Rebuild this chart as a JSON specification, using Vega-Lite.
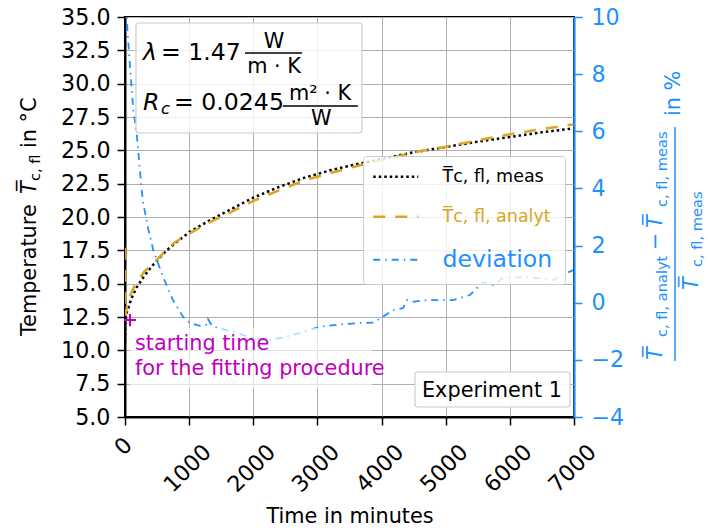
{
  "$schema": "https://vega.github.io/schema/vega-lite/v6.json",
  "width": 449,
  "height": 400,
  "autosize": {"type": "none"},
  "padding": {"left": 125, "top": 17, "right": 134, "bottom": 114},
  "background": "white",
  "config": {
    "view": {"stroke": "black", "strokeWidth": 2},
    "font": "DejaVu Sans",
    "text": {"font": "DejaVu Sans"},
    "axis": {
      "labelFont": "DejaVu Sans", "labelFontSize": 22.2, "labelColor": "black",
      "tickColor": "black", "tickSize": 8, "tickWidth": 1.5,
      "domainColor": "black", "domainWidth": 2,
      "gridColor": "#b0b0b0", "gridWidth": 1,
      "titleFont": "DejaVu Sans", "titleColor": "black", "titleFontWeight": "normal"
    },
    "legend": {
      "orient": "none", "legendX": 238, "legendY": 139, "title": null,
      "symbolType": "stroke", "symbolSize": 2025, "symbolStrokeWidth": 2.5, "symbolOffset": 12,
      "labelFont": "DejaVu Sans", "labelFontSize": 17.5, "labelOffset": 38, "labelLimit": 300,
      "padding": 12, "rowPadding": 21,
      "fillColor": "rgba(255,255,255,0.8)", "strokeColor": "#cccccc", "cornerRadius": 3
    }
  },
  "datasets": {
    "temps": [
      {"t": 0, "T": 10.7, "series": "T̅c, fl, meas"},
      {"t": 8, "T": 12.2, "series": "T̅c, fl, meas"},
      {"t": 25, "T": 12.8, "series": "T̅c, fl, meas"},
      {"t": 60, "T": 13.3, "series": "T̅c, fl, meas"},
      {"t": 100, "T": 13.9, "series": "T̅c, fl, meas"},
      {"t": 180, "T": 14.7, "series": "T̅c, fl, meas"},
      {"t": 290, "T": 15.5, "series": "T̅c, fl, meas"},
      {"t": 400, "T": 16.2, "series": "T̅c, fl, meas"},
      {"t": 500, "T": 16.75, "series": "T̅c, fl, meas"},
      {"t": 650, "T": 17.5, "series": "T̅c, fl, meas"},
      {"t": 800, "T": 18.1, "series": "T̅c, fl, meas"},
      {"t": 1000, "T": 18.85, "series": "T̅c, fl, meas"},
      {"t": 1300, "T": 19.7, "series": "T̅c, fl, meas"},
      {"t": 1600, "T": 20.45, "series": "T̅c, fl, meas"},
      {"t": 2000, "T": 21.45, "series": "T̅c, fl, meas"},
      {"t": 2400, "T": 22.25, "series": "T̅c, fl, meas"},
      {"t": 2800, "T": 22.95, "series": "T̅c, fl, meas"},
      {"t": 3200, "T": 23.5, "series": "T̅c, fl, meas"},
      {"t": 3600, "T": 23.95, "series": "T̅c, fl, meas"},
      {"t": 4000, "T": 24.35, "series": "T̅c, fl, meas"},
      {"t": 4500, "T": 24.85, "series": "T̅c, fl, meas"},
      {"t": 5000, "T": 25.25, "series": "T̅c, fl, meas"},
      {"t": 5500, "T": 25.65, "series": "T̅c, fl, meas"},
      {"t": 6000, "T": 26.0, "series": "T̅c, fl, meas"},
      {"t": 6500, "T": 26.35, "series": "T̅c, fl, meas"},
      {"t": 7000, "T": 26.65, "series": "T̅c, fl, meas"},
      {"t": 0, "T": 17.7, "series": "T̅c, fl, analyt"},
      {"t": 5, "T": 12.6, "series": "T̅c, fl, analyt"},
      {"t": 50, "T": 13.75, "series": "T̅c, fl, analyt"},
      {"t": 150, "T": 14.85, "series": "T̅c, fl, analyt"},
      {"t": 300, "T": 15.9, "series": "T̅c, fl, analyt"},
      {"t": 450, "T": 16.55, "series": "T̅c, fl, analyt"},
      {"t": 600, "T": 17.3, "series": "T̅c, fl, analyt"},
      {"t": 750, "T": 18.0, "series": "T̅c, fl, analyt"},
      {"t": 900, "T": 18.5, "series": "T̅c, fl, analyt"},
      {"t": 1000, "T": 18.75, "series": "T̅c, fl, analyt"},
      {"t": 1300, "T": 19.55, "series": "T̅c, fl, analyt"},
      {"t": 1600, "T": 20.25, "series": "T̅c, fl, analyt"},
      {"t": 2000, "T": 21.2, "series": "T̅c, fl, analyt"},
      {"t": 2400, "T": 22.0, "series": "T̅c, fl, analyt"},
      {"t": 2800, "T": 22.75, "series": "T̅c, fl, analyt"},
      {"t": 3200, "T": 23.3, "series": "T̅c, fl, analyt"},
      {"t": 3600, "T": 23.8, "series": "T̅c, fl, analyt"},
      {"t": 4000, "T": 24.25, "series": "T̅c, fl, analyt"},
      {"t": 4500, "T": 24.85, "series": "T̅c, fl, analyt"},
      {"t": 5000, "T": 25.27, "series": "T̅c, fl, analyt"},
      {"t": 5500, "T": 25.75, "series": "T̅c, fl, analyt"},
      {"t": 6000, "T": 26.2, "series": "T̅c, fl, analyt"},
      {"t": 6500, "T": 26.6, "series": "T̅c, fl, analyt"},
      {"t": 7000, "T": 26.95, "series": "T̅c, fl, analyt"}
    ],
    "dev": [
      {"t": 20, "dev": 10.4, "series": "deviation"},
      {"t": 26, "dev": 9.95, "series": "deviation"},
      {"t": 78, "dev": 8.26, "series": "deviation"},
      {"t": 130, "dev": 6.74, "series": "deviation"},
      {"t": 182, "dev": 5.93, "series": "deviation"},
      {"t": 260, "dev": 3.94, "series": "deviation"},
      {"t": 285, "dev": 3.48, "series": "deviation"},
      {"t": 360, "dev": 2.6, "series": "deviation"},
      {"t": 441, "dev": 1.84, "series": "deviation"},
      {"t": 592, "dev": 0.91, "series": "deviation"},
      {"t": 748, "dev": 0.09, "series": "deviation"},
      {"t": 904, "dev": -0.49, "series": "deviation"},
      {"t": 1013, "dev": -0.71, "series": "deviation"},
      {"t": 1169, "dev": -0.81, "series": "deviation"},
      {"t": 1263, "dev": -0.78, "series": "deviation"},
      {"t": 1294, "dev": -0.57, "series": "deviation"},
      {"t": 1340, "dev": -0.75, "series": "deviation"},
      {"t": 1372, "dev": -0.84, "series": "deviation"},
      {"t": 1684, "dev": -1.02, "series": "deviation"},
      {"t": 1996, "dev": -1.24, "series": "deviation"},
      {"t": 2214, "dev": -1.31, "series": "deviation"},
      {"t": 2450, "dev": -1.22, "series": "deviation"},
      {"t": 2728, "dev": -1.06, "series": "deviation"},
      {"t": 3040, "dev": -0.84, "series": "deviation"},
      {"t": 3350, "dev": -0.76, "series": "deviation"},
      {"t": 3664, "dev": -0.71, "series": "deviation"},
      {"t": 3866, "dev": -0.7, "series": "deviation"},
      {"t": 4022, "dev": -0.49, "series": "deviation"},
      {"t": 4178, "dev": -0.26, "series": "deviation"},
      {"t": 4334, "dev": -0.19, "series": "deviation"},
      {"t": 4397, "dev": 0.09, "series": "deviation"},
      {"t": 4475, "dev": 0.03, "series": "deviation"},
      {"t": 4708, "dev": 0.09, "series": "deviation"},
      {"t": 5114, "dev": 0.09, "series": "deviation"},
      {"t": 5379, "dev": 0.27, "series": "deviation"},
      {"t": 5581, "dev": 0.73, "series": "deviation"},
      {"t": 5737, "dev": 0.62, "series": "deviation"},
      {"t": 5893, "dev": 0.86, "series": "deviation"},
      {"t": 6267, "dev": 0.9, "series": "deviation"},
      {"t": 6672, "dev": 0.79, "series": "deviation"},
      {"t": 6828, "dev": 0.97, "series": "deviation"},
      {"t": 6984, "dev": 1.14, "series": "deviation"}
    ],
    "start": [
      {"t": 78, "T": 12.27}
    ]
  },
  "layer": [
    {
      "data": {"name": "temps"},
      "mark": {"type": "line", "strokeWidth": 2.5, "clip": true},
      "encoding": {
        "x": {
          "field": "t", "type": "quantitative",
          "scale": {"domain": [0, 7000], "nice": false, "zero": false},
          "axis": {
            "title": "Time in minutes", "titleFontSize": 20.8, "titleY": 105, "titleBaseline": "alphabetic",
            "values": [0, 1000, 2000, 3000, 4000, 5000, 6000, 7000], "format": "d",
            "labelAngle": -45, "labelAlign": "center", "labelBaseline": "middle",
            "labelPadding": {"condition": {"test": "datum.value == 0", "value": 21}, "value": 43},
            "labelOffset": -2, "grid": true, "labelOverlap": false
          }
        },
        "y": {
          "field": "T", "type": "quantitative",
          "scale": {"domain": [5, 35], "nice": false, "zero": false},
          "axis": {
            "title": null, "orient": "left", "format": ".1f", "grid": true, "labelPadding": 7,
            "values": [5, 7.5, 10, 12.5, 15, 17.5, 20, 22.5, 25, 27.5, 30, 32.5, 35]
          }
        },
        "color": {
          "field": "series", "type": "nominal",
          "scale": {"domain": ["T̅c, fl, meas", "T̅c, fl, analyt", "deviation"], "range": ["black", "#daa520", "#1e90ff"]},
          "legend": {
            "encode": {
              "labels": {"update": {
                "fill": {"signal": "datum.value === 'deviation' ? '#1e90ff' : (indexof(datum.value, 'analyt') >= 0 ? '#daa520' : 'black')"},
                "fontSize": {"signal": "datum.value === 'deviation' ? 23.6 : 17.5"}
              }},
              "symbols": {"update": {
                "strokeWidth": {"signal": "datum.value === 'deviation' ? 1.8 : 2.5"}
              }}
            }
          }
        },
        "strokeDash": {
          "field": "series", "type": "nominal",
          "scale": {"domain": ["T̅c, fl, meas", "T̅c, fl, analyt", "deviation"], "range": [[2.5, 3], [12, 10], [7, 5, 1.5, 5]]},
          "legend": {
            "encode": {
              "labels": {"update": {
                "fill": {"signal": "datum.value === 'deviation' ? '#1e90ff' : (indexof(datum.value, 'analyt') >= 0 ? '#daa520' : 'black')"},
                "fontSize": {"signal": "datum.value === 'deviation' ? 23.6 : 17.5"}
              }},
              "symbols": {"update": {
                "strokeWidth": {"signal": "datum.value === 'deviation' ? 1.8 : 2.5"}
              }}
            }
          }
        }
      }
    },
    {
      "data": {"name": "dev"},
      "mark": {"type": "line", "strokeWidth": 1.8, "clip": true},
      "encoding": {
        "x": {"field": "t", "type": "quantitative", "scale": {"domain": [0, 7000], "nice": false, "zero": false}},
        "y": {
          "field": "dev", "type": "quantitative",
          "scale": {"domain": [-4, 10], "nice": false, "zero": false},
          "axis": {
            "title": null, "orient": "right", "format": "d", "grid": false,
            "values": [-4, -2, 0, 2, 4, 6, 8, 10],
            "labelColor": "#1e90ff", "tickColor": "#1e90ff", "domainColor": "#1e90ff", "domainWidth": 2.2,
            "labelPadding": 9, "zindex": 1
          }
        },
        "color": {
          "field": "series", "type": "nominal",
          "scale": {"domain": ["T̅c, fl, meas", "T̅c, fl, analyt", "deviation"], "range": ["black", "#daa520", "#1e90ff"]},
          "legend": {
            "encode": {
              "labels": {"update": {
                "fill": {"signal": "datum.value === 'deviation' ? '#1e90ff' : (indexof(datum.value, 'analyt') >= 0 ? '#daa520' : 'black')"},
                "fontSize": {"signal": "datum.value === 'deviation' ? 23.6 : 17.5"}
              }},
              "symbols": {"update": {
                "strokeWidth": {"signal": "datum.value === 'deviation' ? 1.8 : 2.5"}
              }}
            }
          }
        },
        "strokeDash": {
          "field": "series", "type": "nominal",
          "scale": {"domain": ["T̅c, fl, meas", "T̅c, fl, analyt", "deviation"], "range": [[2.5, 3], [12, 10], [7, 5, 1.5, 5]]},
          "legend": {
            "encode": {
              "labels": {"update": {
                "fill": {"signal": "datum.value === 'deviation' ? '#1e90ff' : (indexof(datum.value, 'analyt') >= 0 ? '#daa520' : 'black')"},
                "fontSize": {"signal": "datum.value === 'deviation' ? 23.6 : 17.5"}
              }},
              "symbols": {"update": {
                "strokeWidth": {"signal": "datum.value === 'deviation' ? 1.8 : 2.5"}
              }}
            }
          }
        }
      }
    },
    {
      "data": {"values": [{}]},
      "layer": [
        {
          "mark": {"type": "rect", "fill": "white", "fillOpacity": 0.8, "stroke": "#cccccc", "strokeWidth": 1.2, "cornerRadius": 3},
          "encoding": {
            "x": {"datum": 171, "type": "quantitative", "scale": {"domain": [0, 7000], "nice": false, "zero": false}},
            "x2": {"datum": 3695},
            "y": {"datum": 34.55, "type": "quantitative", "scale": {"domain": [5, 35], "nice": false, "zero": false}, "axis": null},
            "y2": {"datum": 26.3}
          }
        },
        {
          "mark": {"type": "rect", "fill": "white", "fillOpacity": 0.65},
          "encoding": {
            "x": {"datum": 78, "type": "quantitative", "scale": {"domain": [0, 7000], "nice": false, "zero": false}},
            "x2": {"datum": 3851},
            "y": {"datum": 11.675, "type": "quantitative", "scale": {"domain": [5, 35], "nice": false, "zero": false}, "axis": null},
            "y2": {"datum": 7.175}
          }
        },
        {
          "mark": {"type": "rect", "fill": "white", "fillOpacity": 0.9, "stroke": "#cccccc", "strokeWidth": 1.2, "cornerRadius": 3},
          "encoding": {
            "x": {"datum": 4521, "type": "quantitative", "scale": {"domain": [0, 7000], "nice": false, "zero": false}},
            "x2": {"datum": 6938},
            "y": {"datum": 8.375, "type": "quantitative", "scale": {"domain": [5, 35], "nice": false, "zero": false}, "axis": null},
            "y2": {"datum": 5.75}
          }
        },
        {
          "data": {"name": "start"},
          "mark": {"type": "point", "shape": "M-1,0H1M0,-1V1", "size": 150, "stroke": "#bf00bf", "strokeWidth": 2, "filled": false, "opacity": 1},
          "encoding": {
            "x": {"field": "t", "type": "quantitative", "scale": {"domain": [0, 7000], "nice": false, "zero": false}},
            "y": {"field": "T", "type": "quantitative", "scale": {"domain": [5, 35], "nice": false, "zero": false}, "axis": null}
          }
        },
        {
          "mark": {"type": "text", "text": "starting time", "fontSize": 20.8, "color": "#bf00bf", "align": "left", "baseline": "alphabetic"},
          "encoding": {
            "x": {"datum": 156, "type": "quantitative", "scale": {"domain": [0, 7000], "nice": false, "zero": false}},
            "y": {"datum": 10.025, "type": "quantitative", "scale": {"domain": [5, 35], "nice": false, "zero": false}, "axis": null}
          }
        },
        {
          "mark": {"type": "text", "text": "for the fitting procedure", "fontSize": 20.8, "color": "#bf00bf", "align": "left", "baseline": "alphabetic"},
          "encoding": {
            "x": {"datum": 156, "type": "quantitative", "scale": {"domain": [0, 7000], "nice": false, "zero": false}},
            "y": {"datum": 8.15, "type": "quantitative", "scale": {"domain": [5, 35], "nice": false, "zero": false}, "axis": null}
          }
        },
        {
          "mark": {"type": "text", "text": "Experiment 1", "fontSize": 20.8, "color": "black", "align": "left", "baseline": "alphabetic"},
          "encoding": {
            "x": {"datum": 4630, "type": "quantitative", "scale": {"domain": [0, 7000], "nice": false, "zero": false}},
            "y": {"datum": 6.5, "type": "quantitative", "scale": {"domain": [5, 35], "nice": false, "zero": false}, "axis": null}
          }
        },
        {
          "mark": {"type": "text", "text": "λ", "fontSize": 23.6, "fontStyle": "italic", "color": "black", "align": "left", "baseline": "alphabetic"},
          "encoding": {
            "x": {"datum": 281, "type": "quantitative", "scale": {"domain": [0, 7000], "nice": false, "zero": false}},
            "y": {"datum": 31.775, "type": "quantitative", "scale": {"domain": [5, 35], "nice": false, "zero": false}, "axis": null}
          }
        },
        {
          "mark": {"type": "text", "text": "= 1.47", "fontSize": 23.6, "color": "black", "align": "left", "baseline": "alphabetic"},
          "encoding": {
            "x": {"datum": 561, "type": "quantitative", "scale": {"domain": [0, 7000], "nice": false, "zero": false}},
            "y": {"datum": 31.775, "type": "quantitative", "scale": {"domain": [5, 35], "nice": false, "zero": false}, "axis": null}
          }
        },
        {
          "mark": {"type": "text", "text": "W", "fontSize": 20.8, "color": "black", "align": "center", "baseline": "alphabetic"},
          "encoding": {
            "x": {"datum": 2323, "type": "quantitative", "scale": {"domain": [0, 7000], "nice": false, "zero": false}},
            "y": {"datum": 32.675, "type": "quantitative", "scale": {"domain": [5, 35], "nice": false, "zero": false}, "axis": null}
          }
        },
        {
          "mark": {"type": "rule", "color": "black", "strokeWidth": 1.3},
          "encoding": {
            "x": {"datum": 1871, "type": "quantitative", "scale": {"domain": [0, 7000], "nice": false, "zero": false}},
            "x2": {"datum": 2760},
            "y": {"datum": 32.3, "type": "quantitative", "scale": {"domain": [5, 35], "nice": false, "zero": false}, "axis": null}
          }
        },
        {
          "mark": {"type": "text", "text": "m · K", "fontSize": 20.8, "color": "black", "align": "center", "baseline": "alphabetic"},
          "encoding": {
            "x": {"datum": 2323, "type": "quantitative", "scale": {"domain": [0, 7000], "nice": false, "zero": false}},
            "y": {"datum": 30.8, "type": "quantitative", "scale": {"domain": [5, 35], "nice": false, "zero": false}, "axis": null}
          }
        },
        {
          "mark": {"type": "text", "text": "R", "fontSize": 23.6, "fontStyle": "italic", "color": "black", "align": "left", "baseline": "alphabetic"},
          "encoding": {
            "x": {"datum": 281, "type": "quantitative", "scale": {"domain": [0, 7000], "nice": false, "zero": false}},
            "y": {"datum": 28.025, "type": "quantitative", "scale": {"domain": [5, 35], "nice": false, "zero": false}, "axis": null}
          }
        },
        {
          "mark": {"type": "text", "text": "c", "fontSize": 16.5, "fontStyle": "italic", "color": "black", "align": "left", "baseline": "alphabetic"},
          "encoding": {
            "x": {"datum": 560, "type": "quantitative", "scale": {"domain": [0, 7000], "nice": false, "zero": false}},
            "y": {"datum": 27.725, "type": "quantitative", "scale": {"domain": [5, 35], "nice": false, "zero": false}, "axis": null}
          }
        },
        {
          "mark": {"type": "text", "text": "= 0.0245", "fontSize": 23.6, "color": "black", "align": "left", "baseline": "alphabetic"},
          "encoding": {
            "x": {"datum": 765, "type": "quantitative", "scale": {"domain": [0, 7000], "nice": false, "zero": false}},
            "y": {"datum": 28.025, "type": "quantitative", "scale": {"domain": [5, 35], "nice": false, "zero": false}, "axis": null}
          }
        },
        {
          "mark": {"type": "text", "text": "m² · K", "fontSize": 20.8, "color": "black", "align": "center", "baseline": "alphabetic"},
          "encoding": {
            "x": {"datum": 3040, "type": "quantitative", "scale": {"domain": [0, 7000], "nice": false, "zero": false}},
            "y": {"datum": 28.775, "type": "quantitative", "scale": {"domain": [5, 35], "nice": false, "zero": false}, "axis": null}
          }
        },
        {
          "mark": {"type": "rule", "color": "black", "strokeWidth": 1.3},
          "encoding": {
            "x": {"datum": 2460, "type": "quantitative", "scale": {"domain": [0, 7000], "nice": false, "zero": false}},
            "x2": {"datum": 3630},
            "y": {"datum": 28.325, "type": "quantitative", "scale": {"domain": [5, 35], "nice": false, "zero": false}, "axis": null}
          }
        },
        {
          "mark": {"type": "text", "text": "W", "fontSize": 20.8, "color": "black", "align": "center", "baseline": "alphabetic"},
          "encoding": {
            "x": {"datum": 3060, "type": "quantitative", "scale": {"domain": [0, 7000], "nice": false, "zero": false}},
            "y": {"datum": 26.9, "type": "quantitative", "scale": {"domain": [5, 35], "nice": false, "zero": false}, "axis": null}
          }
        },
        {
          "mark": {"type": "text", "text": "Temperature", "fontSize": 20.8, "color": "black", "angle": 270, "align": "left", "baseline": "alphabetic"},
          "encoding": {
            "x": {"datum": -1387, "type": "quantitative", "scale": {"domain": [0, 7000], "nice": false, "zero": false}},
            "y": {"datum": 11.07, "type": "quantitative", "scale": {"domain": [5, 35], "nice": false, "zero": false}, "axis": null}
          }
        },
        {
          "mark": {"type": "text", "text": "T̅", "fontSize": 20.8, "fontStyle": "italic", "color": "black", "angle": 270, "align": "left", "baseline": "alphabetic"},
          "encoding": {
            "x": {"datum": -1387, "type": "quantitative", "scale": {"domain": [0, 7000], "nice": false, "zero": false}},
            "y": {"datum": 21.72, "type": "quantitative", "scale": {"domain": [5, 35], "nice": false, "zero": false}, "axis": null}
          }
        },
        {
          "mark": {"type": "text", "text": "c, fl", "fontSize": 14.6, "color": "black", "angle": 270, "align": "left", "baseline": "alphabetic"},
          "encoding": {
            "x": {"datum": -1325, "type": "quantitative", "scale": {"domain": [0, 7000], "nice": false, "zero": false}},
            "y": {"datum": 22.7, "type": "quantitative", "scale": {"domain": [5, 35], "nice": false, "zero": false}, "axis": null}
          }
        },
        {
          "mark": {"type": "text", "text": "in °C", "fontSize": 20.8, "color": "black", "angle": 270, "align": "left", "baseline": "alphabetic"},
          "encoding": {
            "x": {"datum": -1387, "type": "quantitative", "scale": {"domain": [0, 7000], "nice": false, "zero": false}},
            "y": {"datum": 25.17, "type": "quantitative", "scale": {"domain": [5, 35], "nice": false, "zero": false}, "axis": null}
          }
        },
        {
          "mark": {"type": "text", "text": "T̅", "fontSize": 20.8, "fontStyle": "italic", "color": "#1e90ff", "angle": 270, "align": "left", "baseline": "alphabetic"},
          "encoding": {
            "x": {"datum": 8372, "type": "quantitative", "scale": {"domain": [0, 7000], "nice": false, "zero": false}},
            "y": {"datum": 9.27, "type": "quantitative", "scale": {"domain": [5, 35], "nice": false, "zero": false}, "axis": null}
          }
        },
        {
          "mark": {"type": "text", "text": "c, fl, analyt", "fontSize": 14.6, "color": "#1e90ff", "angle": 270, "align": "left", "baseline": "alphabetic"},
          "encoding": {
            "x": {"datum": 8450, "type": "quantitative", "scale": {"domain": [0, 7000], "nice": false, "zero": false}},
            "y": {"datum": 11.0, "type": "quantitative", "scale": {"domain": [5, 35], "nice": false, "zero": false}, "axis": null}
          }
        },
        {
          "mark": {"type": "text", "text": "−", "fontSize": 20.8, "color": "#1e90ff", "angle": 270, "align": "left", "baseline": "alphabetic"},
          "encoding": {
            "x": {"datum": 8372, "type": "quantitative", "scale": {"domain": [0, 7000], "nice": false, "zero": false}},
            "y": {"datum": 17.52, "type": "quantitative", "scale": {"domain": [5, 35], "nice": false, "zero": false}, "axis": null}
          }
        },
        {
          "mark": {"type": "text", "text": "T̅", "fontSize": 20.8, "fontStyle": "italic", "color": "#1e90ff", "angle": 270, "align": "left", "baseline": "alphabetic"},
          "encoding": {
            "x": {"datum": 8372, "type": "quantitative", "scale": {"domain": [0, 7000], "nice": false, "zero": false}},
            "y": {"datum": 19.17, "type": "quantitative", "scale": {"domain": [5, 35], "nice": false, "zero": false}, "axis": null}
          }
        },
        {
          "mark": {"type": "text", "text": "c, fl, meas", "fontSize": 14.6, "color": "#1e90ff", "angle": 270, "align": "left", "baseline": "alphabetic"},
          "encoding": {
            "x": {"datum": 8450, "type": "quantitative", "scale": {"domain": [0, 7000], "nice": false, "zero": false}},
            "y": {"datum": 20.75, "type": "quantitative", "scale": {"domain": [5, 35], "nice": false, "zero": false}, "axis": null}
          }
        },
        {
          "mark": {"type": "rule", "color": "#1e90ff", "strokeWidth": 1.5},
          "encoding": {
            "x": {"datum": 8575, "type": "quantitative", "scale": {"domain": [0, 7000], "nice": false, "zero": false}},
            "y": {"datum": 9.2, "type": "quantitative", "scale": {"domain": [5, 35], "nice": false, "zero": false}, "axis": null},
            "y2": {"datum": 26.75}
          }
        },
        {
          "mark": {"type": "text", "text": "T̅", "fontSize": 20.8, "fontStyle": "italic", "color": "#1e90ff", "angle": 270, "align": "left", "baseline": "alphabetic"},
          "encoding": {
            "x": {"datum": 8934, "type": "quantitative", "scale": {"domain": [0, 7000], "nice": false, "zero": false}},
            "y": {"datum": 14.52, "type": "quantitative", "scale": {"domain": [5, 35], "nice": false, "zero": false}, "axis": null}
          }
        },
        {
          "mark": {"type": "text", "text": "c, fl, meas", "fontSize": 14.6, "color": "#1e90ff", "angle": 270, "align": "left", "baseline": "alphabetic"},
          "encoding": {
            "x": {"datum": 8996, "type": "quantitative", "scale": {"domain": [0, 7000], "nice": false, "zero": false}},
            "y": {"datum": 16.25, "type": "quantitative", "scale": {"domain": [5, 35], "nice": false, "zero": false}, "axis": null}
          }
        },
        {
          "mark": {"type": "text", "text": "in %", "fontSize": 20.8, "color": "#1e90ff", "angle": 270, "align": "left", "baseline": "alphabetic"},
          "encoding": {
            "x": {"datum": 8653, "type": "quantitative", "scale": {"domain": [0, 7000], "nice": false, "zero": false}},
            "y": {"datum": 27.57, "type": "quantitative", "scale": {"domain": [5, 35], "nice": false, "zero": false}, "axis": null}
          }
        }
      ]
    }
  ],
  "resolve": {"scale": {"y": "independent"}}
}
